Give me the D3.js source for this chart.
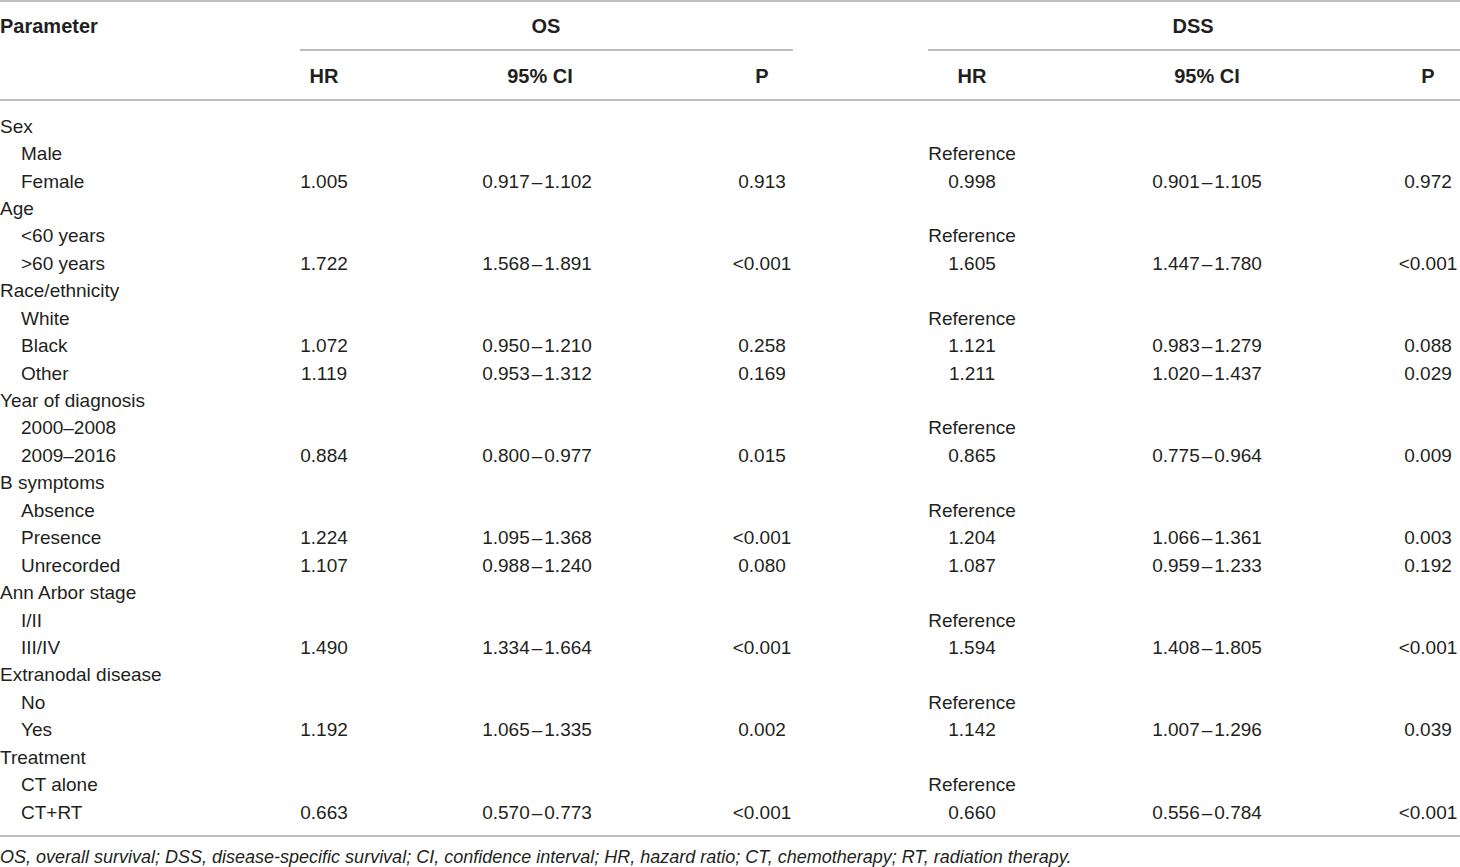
<!DOCTYPE html>
<html><head><meta charset="utf-8">
<script src="https://cdn.jsdelivr.net/npm/d3@7"></script>
<style>
html,body{margin:0;padding:0;background:#fff;}
svg{display:block;}
text{font-family:"Liberation Sans",Arial,Helvetica,sans-serif;fill:#231f20;}
</style></head>
<body>
<svg id="chart" width="1460" height="867"></svg>
<script>
// ---- data ----
const rowLabels = ["Sex","Male","Female","Age","<60 years",">60 years","Race/ethnicity","White","Black","Other","Year of diagnosis","2000–2008","2009–2016","B symptoms","Absence","Presence","Unrecorded","Ann Arbor stage","I/II","III/IV","Extranodal disease","No","Yes","Treatment","CT alone","CT+RT"];
const rowIsGroup = [1,0,0,1,0,0,1,0,0,0,1,0,0,1,0,0,0,1,0,0,1,0,0,1,0,0];
const osHR  = ["","","1.005","","","1.722","","","1.072","1.119","","","0.884","","","1.224","1.107","","","1.490","","","1.192","","","0.663"];
const osCI  = ["","","0.917–1.102","","","1.568–1.891","","","0.950–1.210","0.953–1.312","","","0.800–0.977","","","1.095–1.368","0.988–1.240","","","1.334–1.664","","","1.065–1.335","","","0.570–0.773"];
const osP   = ["","","0.913","","","<0.001","","","0.258","0.169","","","0.015","","","<0.001","0.080","","","<0.001","","","0.002","","","<0.001"];
const dssHR = ["","Reference","0.998","","Reference","1.605","","Reference","1.121","1.211","","Reference","0.865","","Reference","1.204","1.087","","Reference","1.594","","Reference","1.142","","Reference","0.660"];
const dssCI = ["","","0.901–1.105","","","1.447–1.780","","","0.983–1.279","1.020–1.437","","","0.775–0.964","","","1.066–1.361","0.959–1.233","","","1.408–1.805","","","1.007–1.296","","","0.556–0.784"];
const dssP  = ["","","0.972","","","<0.001","","","0.088","0.029","","","0.009","","","0.003","0.192","","","<0.001","","","0.039","","","<0.001"];
const groupHeaders = ["OS","DSS"];
const subHeaders = ["HR","95% CI","P"];
const footnote = "OS, overall survival; DSS, disease-specific survival; CI, confidence interval; HR, hazard ratio; CT, chemotherapy; RT, radiation therapy.";

// ---- layout ----
const svg = d3.select("#chart");
const W = 1460;
const lineColor = "#a7a9ac";
const fs = 19, hfs = 20;

const colKeys = ["osHR","osCI","osP","dssHR","dssCI","dssP"];
const colX = d3.scaleOrdinal().domain(colKeys).range([324,537,762,972,1207,1428]);
const groupX = d3.scaleOrdinal().domain(groupHeaders).range([546,1193]);
const groupSpan = {OS:[300,793], DSS:[928,1460]};

const y = d3.scalePoint().domain(d3.range(rowLabels.length)).range([126,812]);

// rules
const rules = [
  {x1:0,x2:W,y:1},
  {x1:groupSpan.OS[0],x2:groupSpan.OS[1],y:50},
  {x1:groupSpan.DSS[0],x2:groupSpan.DSS[1],y:50},
  {x1:0,x2:W,y:100},
  {x1:0,x2:W,y:836}
];
svg.selectAll("line.rule").data(rules).join("line")
  .attr("x1",d=>d.x1).attr("x2",d=>d.x2).attr("y1",d=>d.y).attr("y2",d=>d.y)
  .attr("stroke",lineColor).attr("stroke-width",1.5);

// headers
svg.append("text").attr("x",0).attr("y",26).attr("dy","0.35em")
  .attr("font-weight","bold").attr("font-size",hfs).text("Parameter");
svg.selectAll("text.grp").data(groupHeaders).join("text")
  .attr("x",d=>groupX(d)).attr("y",26).attr("dy","0.35em")
  .attr("text-anchor","middle").attr("font-weight","bold").attr("font-size",hfs).text(d=>d);
const subData = colKeys.map((k,i)=>({k, t:subHeaders[i%3], x: i===1?540:null}));
svg.selectAll("text.sub").data(subData).join("text")
  .attr("x",d=>d.x||colX(d.k)).attr("y",76).attr("dy","0.35em")
  .attr("text-anchor","middle").attr("font-weight","bold").attr("font-size",hfs).text(d=>d.t);

// row labels
svg.selectAll("text.lab").data(rowLabels).join("text")
  .attr("x",(d,i)=>rowIsGroup[i]?0:21).attr("y",(d,i)=>y(i)).attr("dy","0.35em")
  .attr("font-size",fs).text(d=>d);

// cells
const cols = {osHR,osCI,osP,dssHR,dssCI,dssP};
const cells = [];
colKeys.forEach(k=>cols[k].forEach((v,i)=>{ if(v) cells.push({k,i,v}); }));
const cellText = svg.selectAll("text.cell").data(cells).join("text")
  .attr("x",d=>colX(d.k)).attr("y",d=>y(d.i)).attr("dy","0.35em")
  .attr("text-anchor","middle").attr("font-size",fs);
cellText.each(function(d){
  const t = d3.select(this);
  const parts = d.v.split("–");
  if(parts.length===2){
    t.append("tspan").text(parts[0]);
    t.append("tspan").attr("dx",2).text("–");
    t.append("tspan").attr("dx",2).text(parts[1]);
  } else t.text(d.v);
});

// footnote
svg.append("text").attr("x",0).attr("y",857).attr("dy","0.35em")
  .attr("font-style","italic").attr("font-size",18).text(footnote);
</script>
</body></html>
